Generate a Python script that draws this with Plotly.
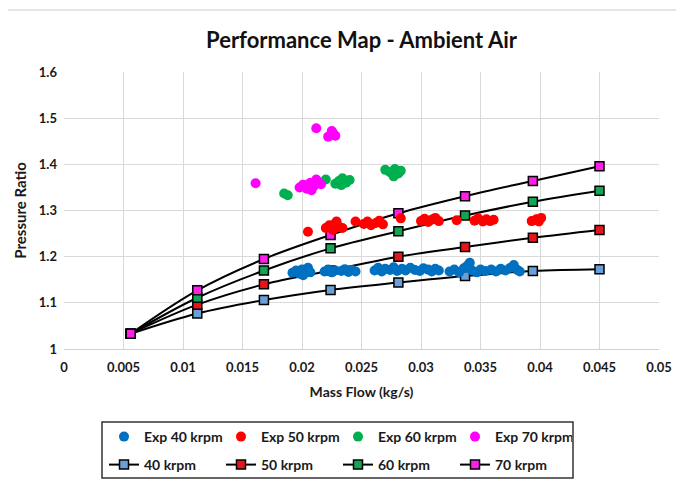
import plotly.graph_objects as go

# ---- Model curves (lines with square markers) ----
model_x = [0.0056, 0.0112, 0.0168, 0.0224, 0.0281, 0.0337, 0.0394, 0.0450]
model_40 = [1.033, 1.077, 1.106, 1.128, 1.144, 1.158, 1.169, 1.173]
model_50 = [1.033, 1.096, 1.140, 1.170, 1.200, 1.221, 1.241, 1.258]
model_60 = [1.033, 1.111, 1.170, 1.218, 1.255, 1.289, 1.319, 1.343]
model_70 = [1.033, 1.127, 1.195, 1.247, 1.294, 1.331, 1.364, 1.396]

# ---- Experimental points ----
exp40_x = [0.0192, 0.0195, 0.0198, 0.0200, 0.0203, 0.0205, 0.0207, 0.0201,
           0.0219, 0.0222, 0.0225, 0.0228, 0.0233, 0.0236, 0.0239, 0.0242, 0.0245,
           0.0261, 0.0264, 0.0267, 0.0270, 0.0274, 0.0277, 0.0280, 0.0284, 0.0287,
           0.0291, 0.0295, 0.0299, 0.0302, 0.0306, 0.0309, 0.0312, 0.0315,
           0.0324, 0.0328, 0.0332, 0.0336, 0.0339, 0.0341, 0.0343, 0.0347, 0.0350, 0.0354,
           0.0359, 0.0363, 0.0367, 0.0371, 0.0375, 0.0378, 0.0381, 0.0383]
exp40_y = [1.165, 1.170, 1.163, 1.172, 1.168, 1.176, 1.166, 1.160,
           1.168, 1.172, 1.166, 1.170, 1.169, 1.173, 1.167, 1.171, 1.168,
           1.170, 1.176, 1.168, 1.174, 1.171, 1.177, 1.169, 1.174, 1.170,
           1.176, 1.171, 1.169, 1.175, 1.172, 1.168, 1.174, 1.170,
           1.168, 1.172, 1.166, 1.175, 1.181, 1.187, 1.170, 1.166, 1.172, 1.169,
           1.172, 1.168, 1.174, 1.170, 1.176, 1.182, 1.171, 1.168]

exp50_x = [0.0205,
           0.0220, 0.0223, 0.0226, 0.0228, 0.0231, 0.0234, 0.0229,
           0.0245,
           0.0252, 0.0255, 0.0258, 0.0262, 0.0265, 0.0268,
           0.0283,
           0.0300, 0.0303, 0.0306, 0.0309, 0.0312, 0.0315,
           0.0330,
           0.0345, 0.0348, 0.0352, 0.0355, 0.0358, 0.0361,
           0.0393, 0.0397, 0.0401, 0.0399]
exp50_y = [1.254,
           1.262, 1.268, 1.258, 1.272, 1.265, 1.262, 1.276,
           1.276,
           1.271, 1.276, 1.268, 1.273, 1.278, 1.270,
           1.283,
           1.277, 1.282, 1.275, 1.280, 1.284, 1.277,
           1.279,
           1.278, 1.283, 1.276, 1.281, 1.277, 1.280,
           1.277, 1.281, 1.284, 1.276]

exp60_x = [0.0185, 0.0188, 0.0220,
           0.0228, 0.0231, 0.0234, 0.0237, 0.0240, 0.0233,
           0.0270, 0.0274, 0.0278, 0.0281, 0.0283, 0.0277]
exp60_y = [1.337, 1.333, 1.367,
           1.358, 1.364, 1.370, 1.360, 1.366, 1.355,
           1.388, 1.383, 1.390, 1.380, 1.386, 1.374]

exp70_x = [0.0161,
           0.0198, 0.0201, 0.0204, 0.0207, 0.0210, 0.0213, 0.0216, 0.0208, 0.0212,
           0.0212,
           0.0222, 0.0226, 0.0228, 0.0225]
exp70_y = [1.359,
           1.350, 1.356, 1.347, 1.360, 1.353, 1.362, 1.357, 1.344, 1.367,
           1.478,
           1.460, 1.468, 1.462, 1.472]

FONT = "Lato"
fig = go.Figure()

model_sets = [("40 krpm", model_40, "#6A9FD8"), ("50 krpm", model_50, "#E8141B"),
              ("60 krpm", model_60, "#13A553"), ("70 krpm", model_70, "#FF1FE8")]
for i, (name, ys, col) in enumerate(model_sets):
    fig.add_trace(go.Scatter(
        x=model_x, y=ys, name=name, mode="lines+markers",
        line=dict(color="black", width=2, shape="spline"),
        marker=dict(symbol="square", size=9, color=col, line=dict(color="black", width=1.5)),
        legend="legend2", legendrank=i + 1))

exp_sets = [("Exp 40 krpm", exp40_x, exp40_y, "#0070C0"), ("Exp 50 krpm", exp50_x, exp50_y, "#FF0000"),
            ("Exp 60 krpm", exp60_x, exp60_y, "#00B050"), ("Exp 70 krpm", exp70_x, exp70_y, "#FF00FF")]
for i, (name, xs, ys, col) in enumerate(exp_sets):
    fig.add_trace(go.Scatter(
        x=xs, y=ys, name=name, mode="markers",
        marker=dict(symbol="circle", size=10, color=col),
        legend="legend", legendrank=i + 1))

# page body has an 8px margin: work in page pixels, shift by OFF
OFF = 8
W, H = 684 - OFF, 481 - OFF
L, R, T, B = 64 - OFF, 684 - 659, 72 - OFF, 481 - 349
pw, ph = W - L - R, H - T - B

def px_x(p):
    return (p - OFF - L) / pw

def px_y(p):
    return (H - B - (p - OFF)) / ph

TXT = "#1a1a1a"
legend_common = dict(orientation="h", xanchor="left", yanchor="middle",
                     entrywidth=72, entrywidthmode="pixels",
                     font=dict(family=FONT, size=14, color=TXT, weight="bold"),
                     bgcolor="rgba(0,0,0,0)", borderwidth=0, tracegroupgap=0,
                     itemclick=False)

fig.update_layout(
    width=W, height=H,
    margin=dict(l=L, r=R, t=T, b=B, autoexpand=False),
    paper_bgcolor="white", plot_bgcolor="white",
    title=dict(text="<b>Performance Map - Ambient Air</b>", x=0.5, xref="paper",
               y=1 - (40 - OFF) / H, yanchor="middle",
               font=dict(family=FONT, size=22, color="#111111")),
    xaxis=dict(range=[0, 0.05], dtick=0.005, tick0=0, showgrid=True, gridcolor="#D9D9D9",
               gridwidth=1, zeroline=False, showline=True, linecolor="#D0D0D0", linewidth=1,
               ticks="", ticklabelstandoff=6,
               tickfont=dict(family=FONT, size=13, color=TXT, weight="bold"),
               title=dict(text="<b>Mass Flow (kg/s)</b>", standoff=13,
                          font=dict(family=FONT, size=14, color=TXT))),
    yaxis=dict(range=[1, 1.6], dtick=0.1, tick0=1, showgrid=True, gridcolor="#D9D9D9",
               gridwidth=1, zeroline=False, showline=False,
               ticks="", ticklabelstandoff=6,
               tickfont=dict(family=FONT, size=13, color=TXT, weight="bold"),
               title=dict(text="<b>Pressure Ratio</b>", standoff=8,
                          font=dict(family=FONT, size=15, color=TXT))),
    legend=dict(x=px_x(104), y=px_y(437), **legend_common),
    legend2=dict(x=px_x(104), y=px_y(465), **legend_common),
    shapes=[
        dict(type="rect", xref="paper", yref="paper",
             x0=px_x(102), x1=px_x(573), y0=px_y(478), y1=px_y(422),
             line=dict(color="#333333", width=1.5), fillcolor="rgba(0,0,0,0)"),
        dict(type="line", xref="paper", yref="paper",
             x0=px_x(OFF), x1=px_x(684), y0=px_y(10), y1=px_y(10),
             line=dict(color="#E6E6E6", width=2)),
    ],
    showlegend=True,
)
fig.update_xaxes(tickformat="~g")
fig.update_yaxes(tickformat="~g")

fig.write_html("out.html")
